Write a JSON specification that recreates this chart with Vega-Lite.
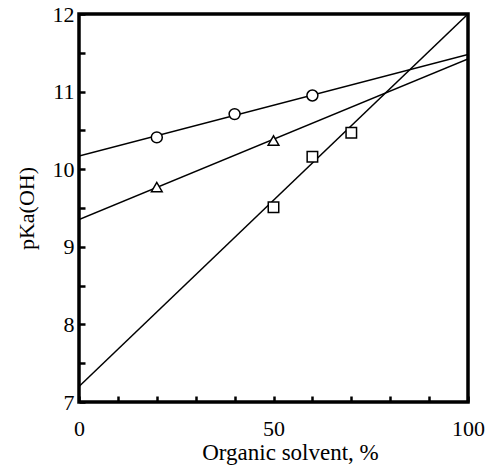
{
  "$schema": "https://vega.github.io/schema/vega-lite/v6.json",
  "autosize": "none",
  "width": 389,
  "height": 388,
  "padding": {"left": 79, "top": 14, "right": 21, "bottom": 64},
  "background": "white",
  "config": {
    "view": {"stroke": "black", "strokeWidth": 3.5, "fill": null},
    "font": "Liberation Serif",
    "axis": {
      "grid": false,
      "domain": false,
      "labelFont": "Liberation Serif",
      "titleFont": "Liberation Serif",
      "labelColor": "black",
      "titleColor": "black",
      "labelFontSize": 22,
      "titleFontSize": 23,
      "titleFontWeight": "normal",
      "ticks": true,
      "tickColor": "black",
      "tickWidth": 2.5,
      "tickSize": 6,
      "labelOverlap": false,
      "labelFlush": false,
      "format": "d"
    }
  },
  "datasets": {
    "fits": [
      {"series": "circle", "solvent": 0, "pKa": 10.17},
      {"series": "circle", "solvent": 100, "pKa": 11.48},
      {"series": "triangle", "solvent": 0, "pKa": 9.35},
      {"series": "triangle", "solvent": 100, "pKa": 11.42},
      {"series": "square", "solvent": 0, "pKa": 7.2},
      {"series": "square", "solvent": 100, "pKa": 12.0}
    ],
    "points": [
      {"series": "circle", "solvent": 20, "pKa": 10.41},
      {"series": "circle", "solvent": 40, "pKa": 10.71},
      {"series": "circle", "solvent": 60, "pKa": 10.95},
      {"series": "triangle", "solvent": 20, "pKa": 9.77},
      {"series": "triangle", "solvent": 50, "pKa": 10.37},
      {"series": "square", "solvent": 50, "pKa": 9.51},
      {"series": "square", "solvent": 60, "pKa": 10.16},
      {"series": "square", "solvent": 70, "pKa": 10.47}
    ]
  },
  "encoding": {
    "x": {
      "field": "solvent", "type": "quantitative",
      "scale": {"domain": [0, 100], "nice": false},
      "axis": {
        "values": [0, 10, 20, 30, 40, 50, 60, 70, 80, 90, 100],
        "labelExpr": "datum.value % 50 === 0 ? datum.label : ''",
        "offset": -6,
        "zindex": 2,
        "labelPadding": 16,
        "title": "Organic solvent, %",
        "titleX": 211,
        "titleY": 63,
        "titleAlign": "center",
        "titleBaseline": "alphabetic"
      }
    },
    "y": {
      "field": "pKa", "type": "quantitative",
      "scale": {"domain": [7, 12], "nice": false, "zero": false},
      "axis": {
        "values": [7, 7.5, 8, 8.5, 9, 9.5, 10, 10.5, 11, 11.5, 12],
        "labelExpr": "datum.value % 1 === 0 ? datum.label : ''",
        "offset": -6,
        "zindex": 2,
        "labelPadding": 5,
        "title": "pKa(OH)",
        "titleFontSize": 22,
        "titlePadding": 14
      }
    }
  },
  "layer": [
    {
      "data": {"name": "fits"},
      "mark": {"type": "line", "color": "black", "strokeWidth": 1.5, "clip": true},
      "encoding": {
        "detail": {"field": "series"}
      }
    },
    {
      "data": {"name": "points"},
      "mark": {"type": "point", "filled": true, "fill": "white", "stroke": "black", "strokeWidth": 1.5, "opacity": 1},
      "encoding": {
        "shape": {
          "field": "series", "type": "nominal",
          "scale": {"domain": ["circle", "triangle", "square"], "range": ["circle", "triangle-up", "square"]},
          "legend": null
        },
        "size": {
          "field": "series", "type": "nominal",
          "scale": {"domain": ["circle", "triangle", "square"], "range": [120, 110, 150]},
          "legend": null
        }
      }
    }
  ]
}
